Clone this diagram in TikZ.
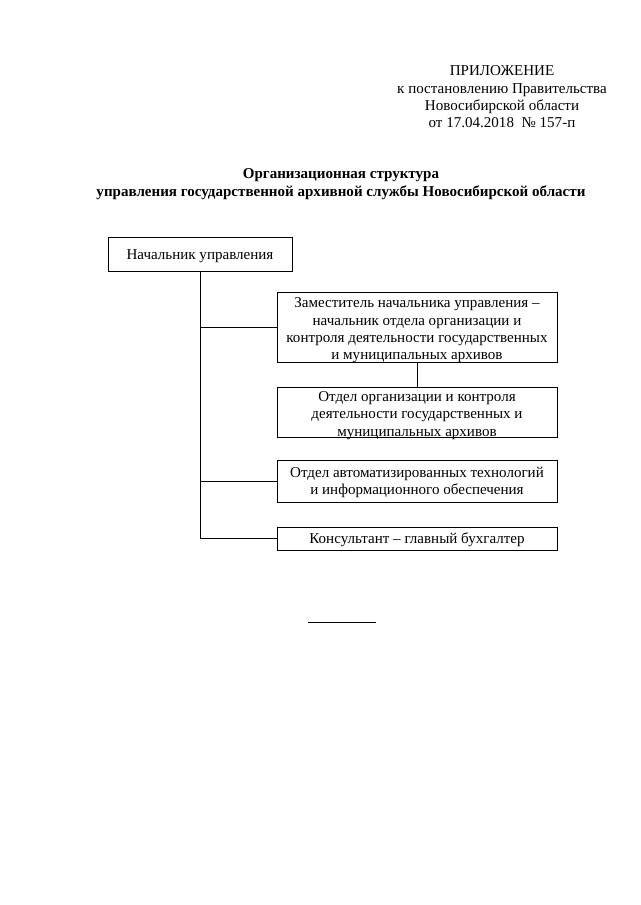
\documentclass[tikz,border=0pt]{standalone}
\usepackage{fontspec}
\setmainfont{Liberation Serif}
\begin{document}
\begin{tikzpicture}[x=0.9302pt,y=-0.9302pt,
  every node/.style={font=\fontsize{14}{16.1}\selectfont},
  orgbox/.style={draw, line width=0.6pt, inner sep=0pt, minimum width=260.5pt},
  boxtext/.style={align=center, inner sep=0pt},
  link/.style={line width=0.6pt}]
\fill[white] (0,0) rectangle (640,905);
\useasboundingbox (0,0) rectangle (640,905);
% header
\node[align=center] (hdr) at (502,97) {ПРИЛОЖЕНИЕ\\к постановлению Правительства\\Новосибирской области\\от 17.04.2018\ \ №~157-п};
\node[align=center, font=\fontsize{14}{16.5}\bfseries\selectfont] (title) at (341,184) {Организационная структура\\управления государственной архивной службы Новосибирской области};
% boxes
\node[orgbox, minimum width=171.2pt, minimum height=31.6pt] (b1) at (200,254) {};
\node[orgbox, minimum height=65.1pt] (b2) at (417,327) {};
\node[orgbox, minimum height=46.5pt] (b3) at (417,412) {};
\node[orgbox, minimum height=39.1pt] (b4) at (417,481) {};
\node[orgbox, minimum height=21.4pt] (b5) at (417,538.5) {};
% texts
\node[boxtext] (t1) at ([yshift=-1.8pt]b1.center) {Начальник управления};
\node[boxtext] (t2) at ([yshift=-3.2pt]b2.center) {Заместитель начальника управления –\\начальник отдела организации и\\контроля деятельности государственных\\и муниципальных архивов};
\node[boxtext] (t3) at ([yshift=-3.2pt]b3.center) {Отдел организации и контроля\\деятельности государственных и\\муниципальных архивов};
\node[boxtext] (t4) at ([yshift=-1.4pt]b4.center) {Отдел автоматизированных технологий\\и информационного обеспечения};
\node[boxtext] (t5) at ([yshift=-0.9pt]b5.center) {Консультант – главный бухгалтер};
% connectors
\draw[link] (b1.south) |- (b5.west);
\draw[link] (b1.south |- b2.west) -- (b2.west);
\draw[link] (b1.south |- b4.west) -- (b4.west);
\draw[link] (b2.south) -- (b3.north);
% bottom rule
\coordinate (r1) at (308,622);
\coordinate (r2) at (376,622);
\draw[line width=0.8pt] (r1) -- (r2);
\end{tikzpicture}
\end{document}
